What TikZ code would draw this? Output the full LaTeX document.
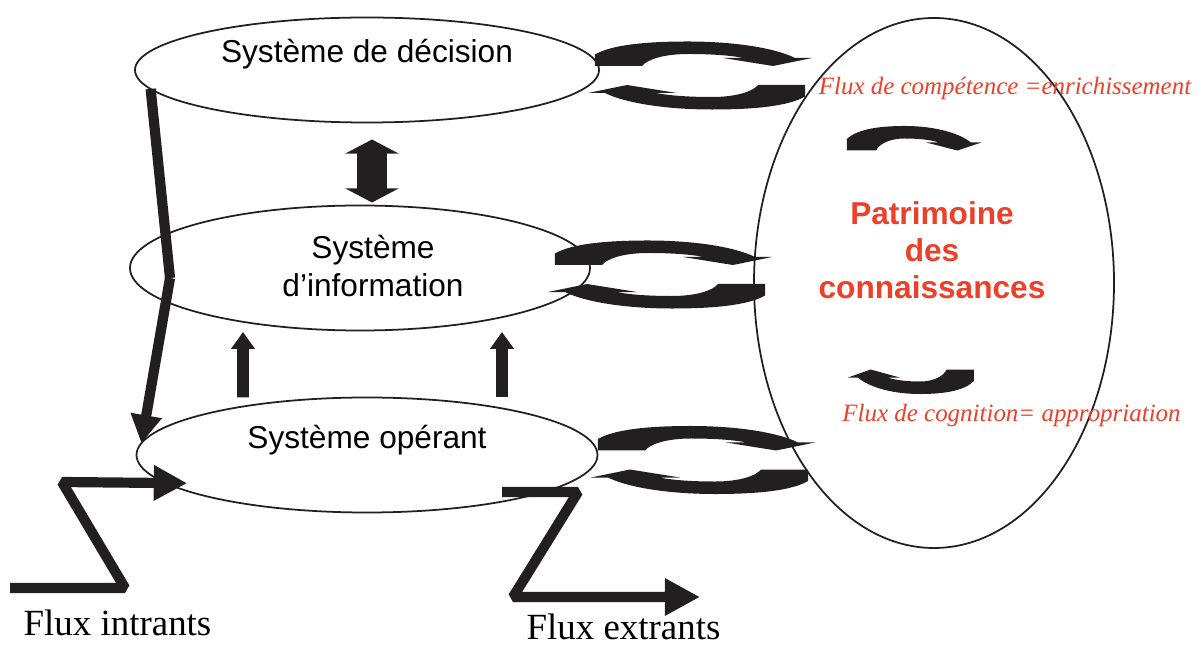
\documentclass[tikz,border=0pt]{standalone}
\usepackage{fontspec}
\setmainfont{Liberation Serif}
\setsansfont{Liberation Sans}
\usepackage{tikz}
\usetikzlibrary{positioning}
\usetikzlibrary{%
  shapes.geometric,%
  calc,%
  arrows.meta%
}
\definecolor{ink}{RGB}{35,31,32}
\definecolor{patred}{RGB}{236,64,42}
\tikzset{
  halfloop/.pic={
    \fill[ink,x=0.02cm,y=0.02cm] (-105,21) .. controls (-88,31) and (-52,34) .. (-12,34)
      .. controls (32,34) and (74,28) .. (95,17.5) -- (112,17.5) -- (73,9.5) -- (23,17.5)
      -- (44,17.5) .. controls (28,20.5) and (8,21.5) .. (-12,21.5)
      .. controls (-36,21.5) and (-53,16) .. (-58,9.5) -- (-105,9.5) -- cycle;
  },
  loops/.pic={
    \pic {halfloop};
    \pic[rotate=180] {halfloop};
  }
}

\begin{document}
\begin{tikzpicture}[
    every node/.style={inner sep=0pt, outer sep=0pt},
    sys/.style={draw=ink, ellipse, line width=1pt},
    systxt/.style={font=\sffamily\fontsize{18}{21.5}\selectfont, align=center},
    redtxt/.style={text=patred, font=\itshape\fontsize{14.2}{17}\selectfont, anchor=base},
    fluxtxt/.style={font=\fontsize{21}{25}\selectfont, anchor=base},
    flow/.style={draw=ink, line width=5.8pt, line join=bevel},
    up/.style={draw=ink, line width=6.8pt, -{Triangle[width=13pt,length=9.6pt]}},
    dbl/.style={draw=ink, line width=17pt,
      {Triangle[width=30pt,length=8pt]}-{Triangle[width=30pt,length=8pt]}}
  ]
  \useasboundingbox (0,0) rectangle (24.08,12.9);
  % the three systems
  \node[sys, minimum width=9.28cm, minimum height=2.1cm] (dec) at (7.34,11.5) {};
  \node[sys, minimum width=9.2cm, minimum height=2.5cm] (info) at (7.2,7.54) {};
  \node[sys, minimum width=9.22cm, minimum height=2.3cm] (oper) at (7.34,3.8) {};
  \node[sys, minimum width=7.2cm, minimum height=10.6cm] (patr) at (18.68,7.24) {};
  %
  \node[systxt] (dectxt) at ([yshift=0.32cm]dec.center) {Système de décision};
  \node[systxt] (infotxt) at ([xshift=0.26cm,yshift=0.04cm]info.center) {Système\\d’information};
  \node[systxt] (opertxt) at ([yshift=0.3cm]oper.center) {Système opérant};
  \node[systxt, text=patred, font=\bfseries\sffamily\fontsize{18}{21}\selectfont]
    (patrtxt) at ([xshift=-0.04cm,yshift=0.66cm]patr.center) {Patrimoine\\des\\connaissances};
  %
  \node[redtxt] (comp) at (20.1,11.0) {Flux de compétence =enrichissement};
  \node[redtxt] (cogn) at (20.23,4.46) {Flux de cognition= appropriation};
  \node[fluxtxt] (intr) at (2.35,0.2) {Flux intrants};
  \node[fluxtxt] (extr) at (12.47,0.11) {Flux extrants};
  %
  \coordinate (kink) at (3.4,7.34);
  \coordinate (in0) at (0.2,1.14);
  \coordinate (in1) at (2.5,1.14);
  \coordinate (in2) at (1.24,3.26);
  \coordinate (ex1) at (11.56,3.06);
  \coordinate (ex2) at (10.26,0.96);
  \coordinate (ex3) at (14.0,0.96);
  %Vertical arrows
  \draw[dbl] ($(dec.south)+(0.1,-0.34)$) -- ($(info.north)+(0.24,0.06)$);
  \draw[up] ($(oper.north)+(-2.48,0)$) -- ($(info.south)+(-2.34,-0.03)$);
  \draw[up] ($(oper.north)+(2.7,0)$) -- ($(info.south)+(2.84,-0.03)$);
  \draw[flow] (dec.185) -- (kink);
  \draw[flow, -{Triangle[width=17pt,length=16pt]}] (kink) -- (oper.177);
  %Flux in and out
  \draw[flow, -{Triangle[width=19pt,length=19pt]}] (in0) -- (in1) -- (in2) -- ([xshift=0.42cm]oper.188);
  \draw[flow, -{Triangle[width=20pt,length=20pt]}] ($(oper.south)+(2.7,0.41)$) -- (ex1) -- (ex2) -- (ex3);
  %Loops
  \pic at (14.0,11.39) {loops};
  \pic[xscale=0.87,yscale=1.44] at (13.2,7.41) {loops};
  \pic at (14.06,3.7) {loops};
  \pic[xscale=0.62] at (18.24,9.7) {halfloop};
  \pic[xscale=0.58,rotate=180] at (18.26,5.7) {halfloop};
\end{tikzpicture}
\end{document}
